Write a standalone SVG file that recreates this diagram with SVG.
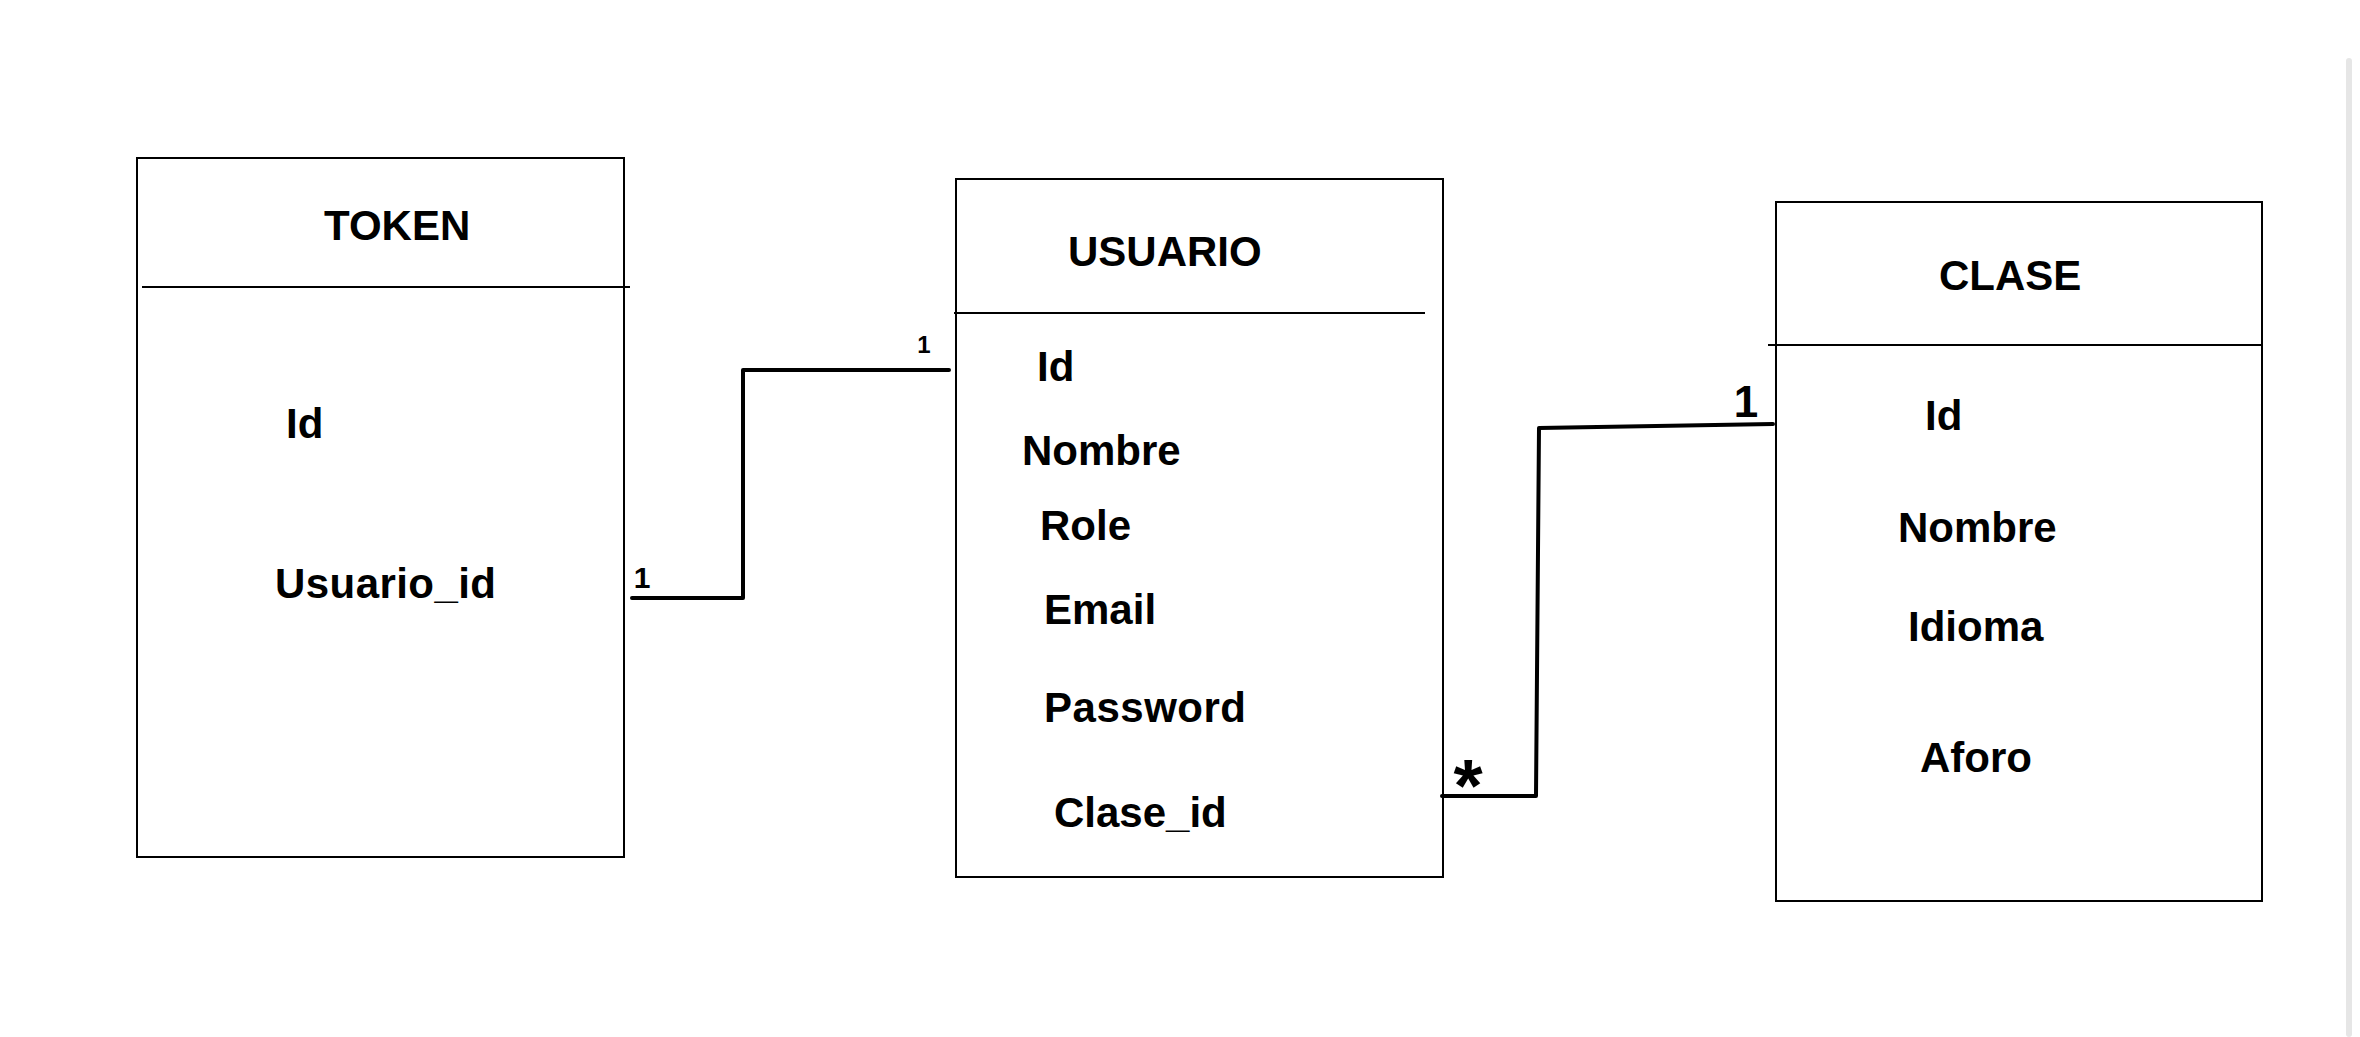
<svg xmlns="http://www.w3.org/2000/svg" width="2360" height="1037" viewBox="0 0 2360 1037">
<style>
.box{fill:#fff;stroke:#000;stroke-width:2}
.div{stroke:#000;stroke-width:2}
.t{font-family:"Liberation Sans",Arial,sans-serif;font-weight:bold;font-size:42px;fill:#000}
.conn{fill:none;stroke:#000;stroke-width:4;stroke-linecap:round;stroke-linejoin:round}
.m{font-family:"Liberation Sans",Arial,sans-serif;font-weight:bold;fill:#000}
</style>
<rect x="0" y="0" width="2360" height="1037" fill="#fff"/>
<rect x="2346" y="58" width="6" height="979" rx="3" fill="#e6e6e6"/>
<g id="token">
<rect class="box" x="137" y="158" width="487" height="699"/>
<line class="div" x1="142" y1="287" x2="630" y2="287"/>
<text class="t" x="324" y="240">TOKEN</text>
<text class="t" x="286" y="438">Id</text>
<text class="t" x="275" y="598" textLength="221">Usuario_id</text>
</g>
<g id="usuario">
<rect class="box" x="956" y="179" width="487" height="698"/>
<line class="div" x1="954" y1="313" x2="1425" y2="313"/>
<text class="t" x="1068" y="266">USUARIO</text>
<text class="t" x="1037" y="381">Id</text>
<text class="t" x="1022" y="465">Nombre</text>
<text class="t" x="1040" y="540">Role</text>
<text class="t" x="1044" y="624">Email</text>
<text class="t" x="1044" y="722" textLength="202">Password</text>
<text class="t" x="1054" y="827">Clase_id</text>
</g>
<g id="clase">
<rect class="box" x="1776" y="202" width="486" height="699"/>
<line class="div" x1="1768" y1="345" x2="2262" y2="345"/>
<text class="t" x="1939" y="290">CLASE</text>
<text class="t" x="1925" y="430">Id</text>
<text class="t" x="1898" y="542">Nombre</text>
<text class="t" x="1908" y="641">Idioma</text>
<text class="t" x="1920" y="772">Aforo</text>
</g>
<g id="connectors">
<path class="conn" d="M632,598 H743 V370 H949"/>
<path class="conn" d="M1442,796 L1536,796 L1539,428 L1773,424"/>
<text class="m" x="642" y="588" font-size="30" text-anchor="middle">1</text>
<text class="m" x="924" y="353" font-size="24" text-anchor="middle">1</text>
<text class="m" x="1746" y="417" font-size="44" text-anchor="middle">1</text>
<text class="m" x="1468" y="811" font-size="75" text-anchor="middle">*</text>
</g>
</svg>
